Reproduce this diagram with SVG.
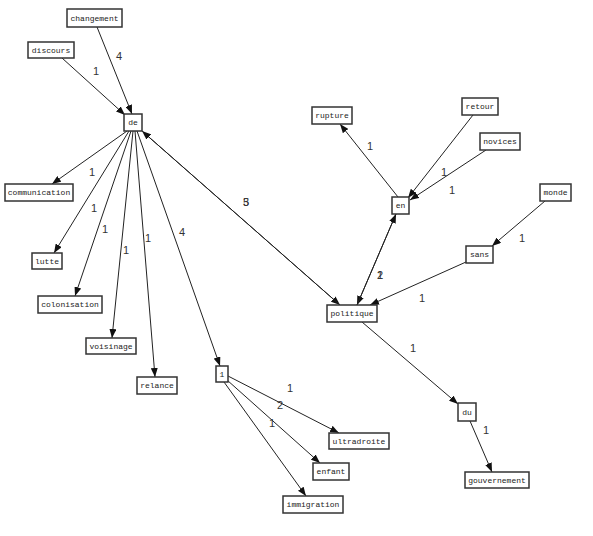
<svg xmlns="http://www.w3.org/2000/svg" width="593" height="536" viewBox="0 0 593 536">
<style>
.node rect{fill:#fff;stroke:#333;stroke-width:1.5}
.node text{font-family:"Liberation Mono","DejaVu Sans Mono",monospace;font-size:8px;fill:#222;text-anchor:middle;dominant-baseline:central}
.edges path{fill:none;stroke:#222;stroke-width:1;marker-end:url(#arr)}
.lbl{font-family:"Liberation Sans",Arial,sans-serif;font-size:11px;fill:#333;text-anchor:middle}
</style>
<defs>
<marker id="arr" markerUnits="userSpaceOnUse" markerWidth="9" markerHeight="7" refX="9" refY="3.5" orient="auto">
<path d="M0,0 L9,3.5 L0,7 z" fill="#111"/>
</marker>
</defs>
<rect width="593" height="536" fill="#fff"/>
<g class="edges">
<path d="M97,27 L132,114"/>
<path d="M62,58 L125,115"/>
<path d="M127,131 L52,184"/>
<path d="M129,131 L54,253"/>
<path d="M131,131 L75,296"/>
<path d="M133,131 L112,338"/>
<path d="M135,131 L155,377"/>
<path d="M137,131 L220,366"/>
<path d="M142,131 L340,305"/>
<path d="M340,305 L142,131"/>
<path d="M398,197 L340,124"/>
<path d="M473,115 L408,198"/>
<path d="M486,150 L410,200"/>
<path d="M396,214 L357,305"/>
<path d="M357,305 L396,214"/>
<path d="M545,201 L492,246"/>
<path d="M466,262 L370,305"/>
<path d="M362,322 L458,404"/>
<path d="M470,421 L492,472"/>
<path d="M228,376 L339,433"/>
<path d="M227,380 L320,463"/>
<path d="M224,382 L306,496"/>
</g>
<g class="labels">
<text class="lbl" x="119" y="60">4</text>
<text class="lbl" x="96" y="75">1</text>
<text class="lbl" x="92" y="176">1</text>
<text class="lbl" x="94" y="212">1</text>
<text class="lbl" x="105" y="233">1</text>
<text class="lbl" x="126" y="254">1</text>
<text class="lbl" x="148" y="242">1</text>
<text class="lbl" x="182" y="236">4</text>
<text class="lbl" x="246" y="206">5</text>
<text class="lbl" x="246" y="206">3</text>
<text class="lbl" x="370" y="150">1</text>
<text class="lbl" x="444" y="176">1</text>
<text class="lbl" x="452" y="194">1</text>
<text class="lbl" x="380" y="279">1</text>
<text class="lbl" x="380" y="279">2</text>
<text class="lbl" x="522" y="242">1</text>
<text class="lbl" x="422" y="302">1</text>
<text class="lbl" x="413" y="352">1</text>
<text class="lbl" x="486" y="434">1</text>
<text class="lbl" x="290" y="392">1</text>
<text class="lbl" x="280" y="409">2</text>
<text class="lbl" x="272" y="427">1</text>
</g>
<g id="changement" class="node"><rect x="67" y="9" width="55" height="18"/><text x="94.5" y="18">changement</text></g>
<g id="discours" class="node"><rect x="28" y="42" width="46" height="16"/><text x="51" y="50">discours</text></g>
<g id="de" class="node"><rect x="124" y="114" width="18" height="17"/><text x="133" y="122.5">de</text></g>
<g id="communication" class="node"><rect x="5" y="184" width="68" height="17"/><text x="39" y="192.5">communication</text></g>
<g id="lutte" class="node"><rect x="32" y="253" width="30" height="16"/><text x="47" y="261">lutte</text></g>
<g id="colonisation" class="node"><rect x="38" y="296" width="64" height="17"/><text x="70" y="304.5">colonisation</text></g>
<g id="voisinage" class="node"><rect x="86" y="338" width="50" height="16"/><text x="111" y="346">voisinage</text></g>
<g id="relance" class="node"><rect x="137" y="377" width="40" height="17"/><text x="157" y="385.5">relance</text></g>
<g id="n1" class="node"><rect x="216" y="366" width="12" height="16"/><text x="222" y="374">1</text></g>
<g id="ultradroite" class="node"><rect x="329" y="433" width="60" height="16"/><text x="359" y="441">ultradroite</text></g>
<g id="enfant" class="node"><rect x="313" y="463" width="36" height="17"/><text x="331" y="471.5">enfant</text></g>
<g id="immigration" class="node"><rect x="283" y="496" width="60" height="17"/><text x="313" y="504.5">immigration</text></g>
<g id="rupture" class="node"><rect x="312" y="107" width="40" height="17"/><text x="332" y="115.5">rupture</text></g>
<g id="retour" class="node"><rect x="462" y="98" width="36" height="17"/><text x="480" y="106.5">retour</text></g>
<g id="novices" class="node"><rect x="480" y="133" width="40" height="17"/><text x="500" y="141.5">novices</text></g>
<g id="en" class="node"><rect x="392" y="197" width="17" height="17"/><text x="400.5" y="205.5">en</text></g>
<g id="monde" class="node"><rect x="540" y="184" width="31" height="17"/><text x="555.5" y="192.5">monde</text></g>
<g id="sans" class="node"><rect x="466" y="246" width="27" height="17"/><text x="479.5" y="254.5">sans</text></g>
<g id="politique" class="node"><rect x="327" y="305" width="50" height="17"/><text x="352" y="313.5">politique</text></g>
<g id="du" class="node"><rect x="458" y="403" width="18" height="18"/><text x="467" y="412">du</text></g>
<g id="gouvernement" class="node"><rect x="465" y="472" width="64" height="16"/><text x="497" y="480">gouvernement</text></g>
</svg>
